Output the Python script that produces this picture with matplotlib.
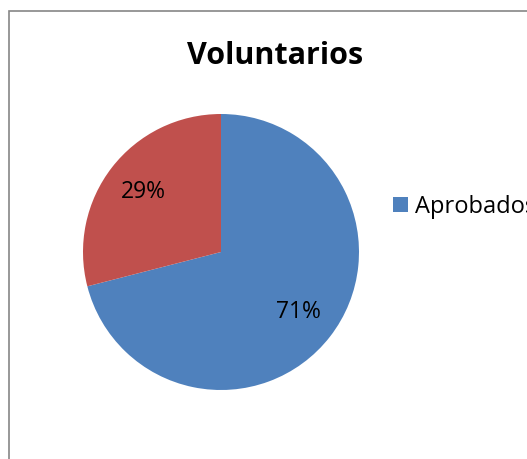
import matplotlib
matplotlib.use("Agg")
import matplotlib.pyplot as plt
from matplotlib.patches import Rectangle

title = "Voluntarios"
labels = ["Aprobados", "No aprobados"]
values = [71, 29]
colors = ["#4F81BD", "#C0504D"]

plt.rcParams['font.family'] = ['Open Sans', 'DejaVu Sans']

fig = plt.figure(figsize=(5.27, 4.59), dpi=100)
fig.patch.set_facecolor("white")

# chart border
fig.patches.append(Rectangle((9/527, -0.1), 1.2, (459-10.5)/459 + 0.1,
                             transform=fig.transFigure, fill=False,
                             edgecolor="#868686", linewidth=1.2))

ax = fig.add_axes([(221-138)/527, (459-390)/459, 276/527, 276/459])
wedges, texts, autotexts = ax.pie(values, colors=colors, startangle=90, counterclock=False,
                                  autopct=lambda p: f"{p:.0f}%", pctdistance=0.71,
                                  textprops=dict(fontsize=16.5, color="black"))
ax.set_xlim(-1, 1)
ax.set_ylim(-1, 1)
ax.set_aspect("equal")
ax.axis("off")

fig.text(275/527, 1 - 56/459, title, ha="center", va="center",
         fontsize=22, fontweight="bold")

fig.legend([wedges[0]], [labels[0]], loc="center left",
           bbox_to_anchor=(393/527, 1 - 207/459), frameon=False,
           fontsize=17, handlelength=0.63, handleheight=0.63, handletextpad=0.3,
           borderpad=0, borderaxespad=0)

fig.savefig("out.png", dpi=100)
